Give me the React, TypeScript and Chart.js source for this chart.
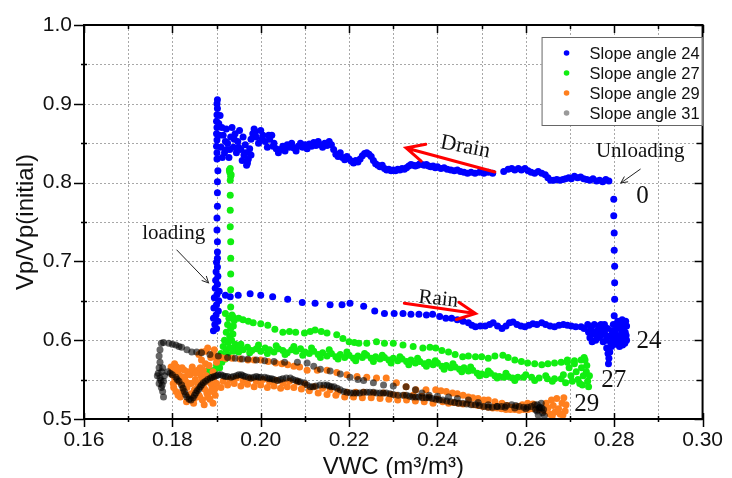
import React, { useEffect, useRef } from "react";
import { Chart, registerables } from "chart.js";

Chart.register(...registerables);

// ---------- Data (VWC, Vp/Vp(initial)) ----------
const SERIES_LABELS = ["Slope angle 24", "Slope angle 27", "Slope angle 29", "Slope angle 31"];

const slope24Loading: number[][] = [
  [0.1893, 0.612], [0.1900, 0.615], [0.1896, 0.620], [0.1903, 0.624], [0.1893, 0.628], [0.1899, 0.632],
  [0.1904, 0.637], [0.1894, 0.641], [0.1900, 0.645], [0.1905, 0.650], [0.1895, 0.654], [0.1901, 0.658],
  [0.1906, 0.662], [0.1897, 0.666], [0.1902, 0.671], [0.1898, 0.676], [0.1903, 0.681], [0.1899, 0.687],
  [0.1902, 0.693], [0.1900, 0.699], [0.1902, 0.704], [0.1902, 0.712], [0.1902, 0.725], [0.1901, 0.740],
  [0.1901, 0.755], [0.1902, 0.770], [0.1902, 0.787], [0.1902, 0.801], [0.1903, 0.815],
];
const slope24Drain: number[][] = [
  [0.1901, 0.830], [0.1901, 0.838], [0.1900, 0.846], [0.1901, 0.854], [0.1900, 0.862], [0.1901, 0.870],
  [0.1900, 0.878], [0.1901, 0.886], [0.1902, 0.894], [0.1901, 0.900], [0.1902, 0.905],
  [0.1905, 0.875], [0.1908, 0.885], [0.1912, 0.870], [0.1906, 0.860], [0.1913, 0.832], [0.1923, 0.842],
  [0.1920, 0.852], [0.1930, 0.842], [0.1940, 0.855], [0.1950, 0.845], [0.1960, 0.858], [0.1966, 0.838],
  [0.1970, 0.825], [0.1978, 0.835], [0.1988, 0.865], [0.2003, 0.855], [0.2018, 0.860], [0.2028, 0.846],
  [0.1910, 0.845], [0.1915, 0.860], [0.1918, 0.838], [0.1922, 0.868], [0.1925, 0.850], [0.1928, 0.832],
  [0.1932, 0.858], [0.1935, 0.870], [0.1938, 0.845], [0.1942, 0.862], [0.1945, 0.838], [0.1948, 0.852],
  [0.1952, 0.866], [0.1955, 0.842], [0.1958, 0.828], [0.1962, 0.835], [0.1965, 0.848], [0.1968, 0.822],
  [0.1972, 0.830], [0.1975, 0.843], [0.1978, 0.855], [0.1982, 0.862], [0.1985, 0.868], [0.1990, 0.858],
  [0.1995, 0.850], [0.2000, 0.866], [0.2005, 0.860], [0.2010, 0.852], [0.2015, 0.845], [0.2020, 0.855],
  [0.2025, 0.860], [0.2030, 0.850], [0.2035, 0.843], [0.2040, 0.838], [0.2045, 0.842], [0.2050, 0.846],
  [0.2055, 0.840], [0.2060, 0.848], [0.2065, 0.845], [0.2070, 0.850], [0.2075, 0.844], [0.2080, 0.840],
  [0.2085, 0.846], [0.2090, 0.850], [0.2095, 0.845], [0.2100, 0.848], [0.2105, 0.843], [0.2110, 0.849],
  [0.2115, 0.846], [0.2120, 0.851], [0.2125, 0.847], [0.2130, 0.852], [0.2135, 0.848], [0.2140, 0.845],
  [0.2145, 0.850], [0.2150, 0.847], [0.2155, 0.852], [0.2160, 0.848], [0.2165, 0.842], [0.2170, 0.836],
  [0.2175, 0.833], [0.2180, 0.838], [0.2185, 0.832], [0.2190, 0.829], [0.2195, 0.833], [0.2200, 0.830],
  [0.2205, 0.827], [0.2210, 0.825], [0.2215, 0.828], [0.2220, 0.826], [0.2225, 0.830], [0.2230, 0.834],
  [0.2235, 0.837], [0.2240, 0.838], [0.2245, 0.836], [0.2250, 0.833], [0.2255, 0.828], [0.2260, 0.824],
  [0.2265, 0.822], [0.2270, 0.820], [0.2275, 0.822], [0.2280, 0.818], [0.2285, 0.816], [0.2290, 0.817],
  [0.2295, 0.815], [0.2300, 0.816], [0.2305, 0.815], [0.2310, 0.817], [0.2315, 0.816], [0.2320, 0.818],
  [0.2325, 0.817], [0.2330, 0.819], [0.2335, 0.821], [0.2340, 0.823], [0.2345, 0.822], [0.2350, 0.821],
  [0.2355, 0.822], [0.2360, 0.824], [0.2365, 0.823], [0.2370, 0.822], [0.2375, 0.823], [0.2380, 0.821],
  [0.2385, 0.820], [0.2390, 0.821], [0.2395, 0.819], [0.2400, 0.820], [0.2408, 0.818], [0.2415, 0.819],
  [0.2422, 0.817], [0.2430, 0.816], [0.2438, 0.815], [0.2445, 0.816], [0.2452, 0.814], [0.2460, 0.813],
  [0.2468, 0.812], [0.2476, 0.813], [0.2485, 0.812], [0.2495, 0.813], [0.2505, 0.812], [0.2515, 0.813],
  [0.2525, 0.812], [0.2550, 0.814], [0.2560, 0.817], [0.2568, 0.818], [0.2575, 0.816], [0.2583, 0.818],
  [0.2590, 0.816], [0.2598, 0.818], [0.2605, 0.815], [0.2612, 0.813], [0.2620, 0.812], [0.2628, 0.814],
  [0.2636, 0.812], [0.2644, 0.810], [0.2650, 0.806], [0.2656, 0.803], [0.2663, 0.803], [0.2670, 0.804],
  [0.2677, 0.803], [0.2684, 0.804], [0.2690, 0.805], [0.2697, 0.806], [0.2703, 0.805], [0.2710, 0.808],
  [0.2717, 0.806], [0.2724, 0.807], [0.2731, 0.805], [0.2738, 0.804], [0.2745, 0.803], [0.2752, 0.805],
  [0.2760, 0.802], [0.2767, 0.803], [0.2774, 0.801], [0.2781, 0.804], [0.2788, 0.802],
];
const slope24Unloading: number[][] = [
  [0.2799, 0.779], [0.2799, 0.758], [0.2800, 0.736], [0.2800, 0.714], [0.2801, 0.694], [0.2801, 0.673],
  [0.2801, 0.652], [0.2800, 0.631],
];
const slope24Rain: number[][] = [
  [0.1920, 0.657], [0.1931, 0.655], [0.1949, 0.657], [0.1976, 0.659], [0.2000, 0.657], [0.2027, 0.655],
  [0.2061, 0.652], [0.2094, 0.648], [0.2123, 0.647], [0.2157, 0.645], [0.2184, 0.645], [0.2202, 0.647],
  [0.2233, 0.643], [0.2258, 0.637], [0.2280, 0.634], [0.2302, 0.634], [0.2322, 0.634], [0.2340, 0.633],
  [0.2358, 0.633], [0.2375, 0.632], [0.2389, 0.633], [0.2405, 0.630], [0.2419, 0.628], [0.2432, 0.628],
  [0.2445, 0.626], [0.2458, 0.624], [0.2470, 0.622], [0.2478, 0.619], [0.2486, 0.617], [0.2497, 0.618],
  [0.2508, 0.618], [0.2518, 0.620], [0.2526, 0.622], [0.2536, 0.618], [0.2546, 0.615], [0.2555, 0.618],
  [0.2563, 0.622], [0.2571, 0.623], [0.2580, 0.620], [0.2589, 0.618], [0.2598, 0.617], [0.2607, 0.619],
  [0.2616, 0.621], [0.2625, 0.620], [0.2636, 0.622], [0.2645, 0.620], [0.2655, 0.618], [0.2665, 0.617],
  [0.2675, 0.619], [0.2685, 0.620], [0.2694, 0.619], [0.2703, 0.618], [0.2713, 0.617], [0.2725, 0.617],
  [0.2732, 0.615], [0.2740, 0.620], [0.2742, 0.610], [0.2745, 0.603], [0.2748, 0.615], [0.2752, 0.608],
  [0.2755, 0.620], [0.2758, 0.600], [0.2762, 0.612], [0.2765, 0.618], [0.2768, 0.605], [0.2772, 0.613],
  [0.2775, 0.598], [0.2778, 0.620], [0.2780, 0.607], [0.2783, 0.590], [0.2786, 0.583], [0.2788, 0.577],
  [0.2790, 0.585], [0.2792, 0.597], [0.2795, 0.612], [0.2798, 0.620], [0.2800, 0.604], [0.2803, 0.595],
  [0.2806, 0.615], [0.2808, 0.624], [0.2811, 0.606], [0.2814, 0.598], [0.2817, 0.612], [0.2820, 0.620],
  [0.2822, 0.603], [0.2825, 0.610], [0.2828, 0.618], [0.2828, 0.600], [0.2826, 0.624], [0.2819, 0.594],
  [0.2745, 0.612], [0.2750, 0.598], [0.2757, 0.610], [0.2763, 0.603], [0.2770, 0.620], [0.2776, 0.610],
  [0.2782, 0.600], [0.2785, 0.615], [0.2789, 0.605], [0.2794, 0.592], [0.2797, 0.600], [0.2802, 0.612],
  [0.2805, 0.620], [0.2807, 0.600], [0.2813, 0.618], [0.2816, 0.604], [0.2818, 0.626], [0.2821, 0.612],
  [0.2824, 0.596], [0.2827, 0.606], [0.2812, 0.592], [0.2787, 0.570],
];

const slope27Loading: number[][] = [
  [0.1931, 0.818], [0.1930, 0.813], [0.1932, 0.808], [0.1931, 0.803], [0.1933, 0.810], [0.1929, 0.816],
  [0.1931, 0.784], [0.1931, 0.765], [0.1931, 0.744], [0.1932, 0.725], [0.1932, 0.704], [0.1932, 0.684],
  [0.1932, 0.664], [0.1932, 0.642],
];
const slope27Cluster: number[][] = [
  [0.1920, 0.634], [0.1928, 0.628], [0.1935, 0.632], [0.1940, 0.625], [0.1925, 0.620], [0.1932, 0.615],
  [0.1938, 0.618], [0.1922, 0.610], [0.1930, 0.605], [0.1937, 0.608], [0.1918, 0.600], [0.1926, 0.597],
  [0.1934, 0.600], [0.1942, 0.595], [0.1915, 0.592], [0.1922, 0.588], [0.1930, 0.590], [0.1938, 0.586],
  [0.1910, 0.583], [0.1918, 0.580], [0.1926, 0.582], [0.1905, 0.575], [0.1912, 0.572], [0.1920, 0.576],
  [0.1900, 0.568], [0.1907, 0.565], [0.1895, 0.562], [0.1888, 0.560], [0.1883, 0.562], [0.1945, 0.590],
  [0.1950, 0.585],
];
const slope27Upper: number[][] = [
  [0.1938, 0.629], [0.1950, 0.628], [0.1960, 0.626], [0.1972, 0.624], [0.1983, 0.622], [0.2000, 0.621],
  [0.2016, 0.619], [0.2032, 0.614], [0.2050, 0.610], [0.2065, 0.611], [0.2079, 0.610], [0.2099, 0.609],
  [0.2112, 0.611], [0.2123, 0.613], [0.2137, 0.611], [0.2150, 0.609], [0.2172, 0.607], [0.2186, 0.602],
  [0.2200, 0.598], [0.2212, 0.597], [0.2222, 0.596], [0.2240, 0.596], [0.2262, 0.598], [0.2280, 0.596],
  [0.2300, 0.596], [0.2322, 0.594], [0.2345, 0.592], [0.2367, 0.590], [0.2383, 0.591], [0.2396, 0.590],
  [0.2410, 0.587], [0.2425, 0.585], [0.2440, 0.582], [0.2457, 0.579], [0.2470, 0.580], [0.2486, 0.579],
  [0.2500, 0.579], [0.2515, 0.577], [0.2530, 0.580], [0.2548, 0.581], [0.2560, 0.578], [0.2575, 0.575],
  [0.2590, 0.573], [0.2604, 0.571], [0.2620, 0.570], [0.2636, 0.569], [0.2650, 0.570], [0.2665, 0.571],
  [0.2680, 0.572], [0.2694, 0.572], [0.2710, 0.574], [0.2725, 0.575],
];
const slope27Lower: number[][] = [
  [0.1950, 0.590], [0.1960, 0.588], [0.1970, 0.591], [0.1980, 0.587], [0.1990, 0.589], [0.2000, 0.586],
  [0.2010, 0.590], [0.2020, 0.588], [0.2030, 0.585], [0.2040, 0.589], [0.2050, 0.587], [0.2060, 0.584],
  [0.2070, 0.588], [0.2080, 0.586], [0.2090, 0.589], [0.2100, 0.585], [0.2110, 0.583], [0.2120, 0.586],
  [0.2130, 0.582], [0.2140, 0.584], [0.2150, 0.580], [0.2160, 0.583], [0.2170, 0.579], [0.2180, 0.582],
  [0.2190, 0.578], [0.2200, 0.581], [0.2210, 0.577], [0.2220, 0.580], [0.2230, 0.578], [0.2240, 0.581],
  [0.2250, 0.577], [0.2260, 0.579], [0.2270, 0.576], [0.2280, 0.578], [0.2290, 0.575], [0.2300, 0.577],
  [0.2310, 0.574], [0.2320, 0.576], [0.2330, 0.573], [0.2340, 0.575], [0.2350, 0.571], [0.2360, 0.573],
  [0.2370, 0.570], [0.2380, 0.572], [0.2390, 0.569], [0.2400, 0.571], [0.2410, 0.567], [0.2420, 0.568],
  [0.2430, 0.565], [0.2440, 0.566], [0.2450, 0.563], [0.2460, 0.565], [0.2470, 0.561], [0.2480, 0.562],
  [0.2490, 0.558], [0.2500, 0.557], [0.2510, 0.556], [0.2520, 0.558], [0.2530, 0.555], [0.2540, 0.554],
  [0.2550, 0.553], [0.2560, 0.554], [0.2570, 0.552], [0.2582, 0.553], [0.2595, 0.553], [0.2613, 0.553],
  [0.2630, 0.552], [0.2649, 0.551], [0.2665, 0.551], [0.2680, 0.551],
  [0.1955, 0.595], [0.1975, 0.584], [0.1995, 0.594], [0.2015, 0.583], [0.2035, 0.593], [0.2055, 0.582],
  [0.2075, 0.592], [0.2095, 0.581], [0.2115, 0.590], [0.2135, 0.578], [0.2155, 0.588], [0.2175, 0.576],
  [0.2195, 0.585], [0.2215, 0.574], [0.2235, 0.583], [0.2255, 0.573], [0.2275, 0.581], [0.2295, 0.571],
  [0.2315, 0.579], [0.2335, 0.569], [0.2355, 0.577], [0.2375, 0.567], [0.2395, 0.574], [0.2415, 0.563],
  [0.2435, 0.570], [0.2455, 0.560], [0.2475, 0.566], [0.2495, 0.555], [0.2515, 0.561], [0.2535, 0.552],
  [0.2555, 0.558], [0.2575, 0.549], [0.2600, 0.556], [0.2620, 0.549], [0.2645, 0.555], [0.2660, 0.548],
  [0.2685, 0.556], [0.2690, 0.546],
  [0.2694, 0.575], [0.2698, 0.565], [0.2702, 0.555], [0.2705, 0.548], [0.2710, 0.570], [0.2714, 0.560],
  [0.2718, 0.550], [0.2722, 0.545], [0.2726, 0.565], [0.2730, 0.555], [0.2734, 0.575], [0.2737, 0.560],
  [0.2740, 0.548], [0.2742, 0.541], [0.2738, 0.568], [0.2732, 0.578], [0.2728, 0.543], [0.2744, 0.555],
];

const slope29Start: number[][] = [
  [0.1797, 0.566], [0.1800, 0.556], [0.1802, 0.545], [0.1805, 0.570], [0.1808, 0.535], [0.1812, 0.560],
  [0.1815, 0.548], [0.1818, 0.528], [0.1822, 0.565], [0.1825, 0.540], [0.1828, 0.553], [0.1832, 0.522],
  [0.1835, 0.560], [0.1838, 0.545], [0.1842, 0.532], [0.1845, 0.566], [0.1848, 0.520], [0.1852, 0.550],
  [0.1855, 0.538], [0.1858, 0.562], [0.1862, 0.528], [0.1865, 0.555], [0.1866, 0.585], [0.1866, 0.575],
  [0.1870, 0.543], [0.1872, 0.518], [0.1875, 0.570], [0.1878, 0.533], [0.1880, 0.590], [0.1882, 0.548],
  [0.1885, 0.525], [0.1887, 0.578], [0.1890, 0.540], [0.1892, 0.560], [0.1895, 0.588], [0.1897, 0.530],
  [0.1900, 0.572], [0.1892, 0.520], [0.1875, 0.586], [0.1860, 0.582], [0.1805, 0.552], [0.1850, 0.526],
  [0.1800, 0.562], [0.1803, 0.540], [0.1807, 0.548], [0.1810, 0.566], [0.1813, 0.530], [0.1817, 0.555],
  [0.1820, 0.545], [0.1823, 0.535], [0.1827, 0.562], [0.1830, 0.548], [0.1833, 0.540], [0.1837, 0.530],
  [0.1840, 0.556], [0.1843, 0.545], [0.1847, 0.562], [0.1850, 0.537], [0.1853, 0.558], [0.1857, 0.545],
  [0.1860, 0.530], [0.1863, 0.565], [0.1867, 0.550], [0.1870, 0.562], [0.1873, 0.538], [0.1877, 0.555],
  [0.1880, 0.528], [0.1883, 0.568], [0.1887, 0.545], [0.1890, 0.582], [0.1893, 0.552], [0.1896, 0.538],
  [0.1899, 0.578], [0.1886, 0.535], [0.1868, 0.524],
];
const slope29Upper: number[][] = [
  [0.1897, 0.580], [0.1910, 0.578], [0.1920, 0.577], [0.1935, 0.577], [0.1953, 0.576], [0.1971, 0.575],
  [0.1985, 0.575], [0.2000, 0.575], [0.2017, 0.573], [0.2034, 0.571], [0.2048, 0.570], [0.2061, 0.569],
  [0.2075, 0.567], [0.2088, 0.566], [0.2105, 0.562], [0.2128, 0.562], [0.2150, 0.562], [0.2172, 0.559],
  [0.2195, 0.556], [0.2218, 0.554], [0.2240, 0.553], [0.2262, 0.552], [0.2284, 0.552], [0.2307, 0.546],
  [0.2329, 0.541], [0.2351, 0.537], [0.2374, 0.537], [0.2396, 0.537], [0.2408, 0.536], [0.2420, 0.535],
  [0.2434, 0.533], [0.2445, 0.532], [0.2458, 0.530], [0.2470, 0.528], [0.2480, 0.527], [0.2492, 0.526],
  [0.2505, 0.524], [0.2515, 0.524], [0.2530, 0.522], [0.2546, 0.520], [0.2558, 0.517], [0.2568, 0.515],
  [0.2580, 0.516], [0.2592, 0.518], [0.2604, 0.520], [0.2616, 0.519],
];
const slope29Lower: number[][] = [
  [0.1900, 0.545], [0.1915, 0.548], [0.1930, 0.550], [0.1945, 0.552], [0.1960, 0.549], [0.1975, 0.551],
  [0.1990, 0.548], [0.2005, 0.550], [0.2020, 0.547], [0.2035, 0.549], [0.2050, 0.546], [0.2065, 0.548],
  [0.2083, 0.547], [0.2100, 0.544], [0.2121, 0.541], [0.2140, 0.539], [0.2157, 0.537], [0.2175, 0.535],
  [0.2195, 0.534], [0.2215, 0.534], [0.2233, 0.534], [0.2255, 0.533], [0.2278, 0.533], [0.2295, 0.531],
  [0.2307, 0.530], [0.2325, 0.530], [0.2345, 0.530], [0.2365, 0.529], [0.2381, 0.528], [0.2400, 0.525],
  [0.1910, 0.540], [0.1925, 0.543], [0.1940, 0.545], [0.1955, 0.542], [0.1970, 0.544], [0.1985, 0.541],
  [0.2000, 0.543], [0.2015, 0.540], [0.2030, 0.542], [0.2045, 0.539], [0.2060, 0.541], [0.2075, 0.540],
  [0.2092, 0.538], [0.2110, 0.536], [0.2130, 0.533], [0.2150, 0.531], [0.2170, 0.530], [0.2190, 0.528],
  [0.2210, 0.528], [0.2230, 0.527], [0.2250, 0.527], [0.2270, 0.526], [0.2290, 0.525], [0.2310, 0.524],
  [0.2330, 0.524], [0.2350, 0.523], [0.2370, 0.522], [0.2390, 0.520],
  [0.2412, 0.522], [0.2425, 0.520], [0.2436, 0.521], [0.2447, 0.520], [0.2458, 0.519], [0.2470, 0.520],
  [0.2481, 0.518], [0.2492, 0.517], [0.2503, 0.516], [0.2515, 0.515], [0.2525, 0.514], [0.2535, 0.514],
  [0.2545, 0.513], [0.2555, 0.512], [0.2565, 0.512], [0.2575, 0.512], [0.2585, 0.511], [0.2595, 0.512],
  [0.2605, 0.512], [0.2615, 0.513], [0.2630, 0.512],
  [0.2642, 0.510], [0.2646, 0.520], [0.2650, 0.514], [0.2655, 0.506], [0.2658, 0.524], [0.2662, 0.517],
  [0.2666, 0.509], [0.2670, 0.526], [0.2674, 0.513], [0.2678, 0.506], [0.2682, 0.520], [0.2686, 0.527],
  [0.2689, 0.510], [0.2691, 0.518], [0.2684, 0.505], [0.2660, 0.504],
];

const slope31Start: number[][] = [
  [0.1775, 0.596], [0.1772, 0.588], [0.1770, 0.580], [0.1772, 0.572], [0.1770, 0.565], [0.1768, 0.558],
  [0.1772, 0.552], [0.1770, 0.545], [0.1775, 0.540], [0.1778, 0.535], [0.1780, 0.528], [0.1776, 0.560],
  [0.1780, 0.548], [0.1782, 0.555], [0.1778, 0.565], [0.1766, 0.555], [0.1774, 0.549], [0.1777, 0.543],
];
const slope31Upper: number[][] = [
  [0.1780, 0.597], [0.1792, 0.596], [0.1800, 0.595], [0.1808, 0.594], [0.1815, 0.592], [0.1821, 0.591],
  [0.1833, 0.588], [0.1844, 0.585], [0.1855, 0.585], [0.1866, 0.584], [0.1885, 0.582], [0.1904, 0.580],
  [0.1925, 0.578], [0.1942, 0.577], [0.1958, 0.576], [0.1971, 0.576], [0.1990, 0.575], [0.2009, 0.574],
  [0.2030, 0.573], [0.2054, 0.572], [0.2083, 0.572], [0.2105, 0.571], [0.2120, 0.567], [0.2135, 0.563],
  [0.2157, 0.561], [0.2180, 0.557], [0.2202, 0.553], [0.2220, 0.550], [0.2233, 0.549], [0.2255, 0.546],
  [0.2278, 0.543], [0.2300, 0.542], [0.2329, 0.541], [0.2350, 0.537], [0.2365, 0.533], [0.2381, 0.530],
  [0.2400, 0.529], [0.2425, 0.528], [0.2445, 0.526], [0.2470, 0.524], [0.2492, 0.521], [0.2515, 0.518],
  [0.2535, 0.516], [0.2553, 0.515], [0.2575, 0.514], [0.2600, 0.513],
];
const slope31Lower: number[][] = [
  [0.1790, 0.560], [0.1800, 0.556], [0.1808, 0.553], [0.1815, 0.548], [0.1821, 0.543], [0.1827, 0.535],
  [0.1833, 0.528], [0.1838, 0.525], [0.1842, 0.524], [0.1847, 0.527], [0.1853, 0.533], [0.1860, 0.538],
  [0.1866, 0.543], [0.1875, 0.548], [0.1886, 0.552], [0.1895, 0.554], [0.1904, 0.556], [0.1915, 0.555],
  [0.1925, 0.554], [0.1933, 0.553], [0.1945, 0.555], [0.1956, 0.556], [0.1965, 0.554], [0.1978, 0.552],
  [0.1990, 0.554], [0.2000, 0.553], [0.2009, 0.553], [0.2020, 0.551], [0.2030, 0.550], [0.2038, 0.549],
  [0.2050, 0.551], [0.2067, 0.552], [0.2080, 0.549], [0.2090, 0.547], [0.2099, 0.546], [0.2112, 0.541],
  [0.2125, 0.542], [0.2143, 0.543], [0.2155, 0.542], [0.2166, 0.541], [0.2180, 0.537], [0.2195, 0.534],
  [0.2210, 0.533], [0.2224, 0.533], [0.2240, 0.534], [0.2255, 0.534], [0.2270, 0.533], [0.2284, 0.533],
  [0.2300, 0.531], [0.2322, 0.530], [0.2337, 0.529], [0.2351, 0.528], [0.2366, 0.527], [0.2381, 0.527],
  [0.2396, 0.525], [0.2412, 0.524], [0.2430, 0.522], [0.2448, 0.520], [0.2466, 0.519], [0.2486, 0.518],
  [0.2505, 0.516], [0.2524, 0.515], [0.2545, 0.516], [0.2568, 0.518], [0.2585, 0.516], [0.2604, 0.515],
  [0.1795, 0.558], [0.1811, 0.550], [0.1824, 0.539], [0.1830, 0.531], [0.1850, 0.530], [0.1856, 0.536],
  [0.1863, 0.541], [0.1870, 0.546], [0.1880, 0.550], [0.1890, 0.553], [0.1900, 0.555], [0.1910, 0.556],
  [0.1920, 0.554], [0.1938, 0.554], [0.1950, 0.556], [0.1960, 0.555], [0.1972, 0.553], [0.1984, 0.553],
  [0.1995, 0.553], [0.2015, 0.552], [0.2025, 0.551], [0.2044, 0.550], [0.2058, 0.552], [0.2073, 0.550],
  [0.2085, 0.548], [0.2105, 0.543], [0.2118, 0.541], [0.2134, 0.543], [0.2150, 0.543], [0.2160, 0.541],
  [0.2173, 0.539], [0.2188, 0.535], [0.2203, 0.533], [0.2217, 0.533], [0.2232, 0.534], [0.2247, 0.534],
  [0.2262, 0.533], [0.2277, 0.533], [0.2292, 0.532], [0.2311, 0.530], [0.2330, 0.530], [0.2344, 0.528],
  [0.2358, 0.528], [0.2374, 0.527], [0.2388, 0.526], [0.2404, 0.524], [0.2421, 0.523], [0.2439, 0.521],
  [0.2457, 0.520], [0.2476, 0.518], [0.2495, 0.517], [0.2515, 0.515], [0.2535, 0.516], [0.2556, 0.517],
  [0.2577, 0.517], [0.2595, 0.515], [0.2612, 0.516],
  [0.2620, 0.518], [0.2625, 0.510], [0.2628, 0.505], [0.2632, 0.515], [0.2635, 0.520], [0.2638, 0.508],
  [0.2640, 0.512], [0.2642, 0.504], [0.2630, 0.514], [0.2622, 0.512], [0.2636, 0.514], [0.2626, 0.518],
];

const X_TICKS = [0.16, 0.17, 0.18, 0.19, 0.2, 0.21, 0.22, 0.23, 0.24, 0.25, 0.26, 0.27, 0.28, 0.29, 0.3];
const Y_TICKS = [0.5, 0.55, 0.6, 0.65, 0.7, 0.75, 0.8, 0.85, 0.9, 0.95, 1.0];

// Annotation texts (placed in data coordinates)
const TEXT_NOTES = [
  { text: "Drain", x: 0.2463, y: 0.845, rot: 11, size: 22 },
  { text: "Rain", x: 0.2402, y: 0.652, rot: 6, size: 21 },
  { text: "Unloading", x: 0.2859, y: 0.839, rot: 0, size: 21 },
  { text: "loading", x: 0.1803, y: 0.735, rot: 0, size: 21 },
  { text: "0", x: 0.2864, y: 0.782, rot: 0, size: 25 },
  { text: "24", x: 0.2879, y: 0.599, rot: 0, size: 25 },
  { text: "27", x: 0.2799, y: 0.549, rot: 0, size: 25 },
  { text: "29", x: 0.2738, y: 0.519, rot: 0, size: 25 },
];
const ARROWS = [
  { x1: 0.2530, y1: 0.8135, x2: 0.2329, y2: 0.844, color: "#ff0000", width: 3, head: 20 },
  { x1: 0.2325, y1: 0.647, x2: 0.2486, y2: 0.634, color: "#ff0000", width: 3, head: 20 },
  { x1: 0.2859, y1: 0.817, x2: 0.2815, y2: 0.7995, color: "#222222", width: 1, head: 7 },
  { x1: 0.1810, y1: 0.7145, x2: 0.1882, y2: 0.6726, color: "#222222", width: 1, head: 7 },
];

const COLORS = ["#0000ff", "#11ee11", "#ff7f1e", "rgba(0,0,0,0.6)"];
const LEGEND_COLORS = ["#0000ff", "#11ee11", "#ff7f1e", "#9a9a9a"];

const SANS = '"Liberation Sans", Arial, sans-serif';
const SERIF = '"Liberation Serif", "Times New Roman", serif';

const isMajorX = (v: number) => Math.round(v * 100) % 2 === 0;
const isMajorY = (v: number) => Math.round(v * 100) % 10 === 0;

const toPts = (arr: number[][]) => arr.map(([x, y]) => ({ x, y }));

const gridPlugin = {
  id: "dottedGrid",
  beforeDatasetsDraw(chart: any) {
    const { ctx, chartArea, scales } = chart;
    const { left, right, top, bottom } = chartArea;
    ctx.save();
    ctx.strokeStyle = "#a8a8a8";
    ctx.lineWidth = 1;
    ctx.setLineDash([2, 2]);
    ctx.beginPath();
    X_TICKS.slice(1, -1).forEach((v) => {
      const px = Math.round(scales.x.getPixelForValue(v)) + 0.5;
      ctx.moveTo(px, top);
      ctx.lineTo(px, bottom);
    });
    Y_TICKS.slice(1, -1).forEach((v) => {
      const py = Math.round(scales.y.getPixelForValue(v)) + 0.5;
      ctx.moveTo(left, py);
      ctx.lineTo(right, py);
    });
    ctx.stroke();
    ctx.restore();
  },
};

const decorPlugin = {
  id: "decor",
  afterDraw(chart: any) {
    const { ctx, chartArea, scales } = chart;
    const { left, right, top, bottom } = chartArea;
    const xs = scales.x;
    const ys = scales.y;
    ctx.save();
    // frame
    ctx.strokeStyle = "#000";
    ctx.lineWidth = 2;
    ctx.setLineDash([]);
    ctx.strokeRect(left, top, right - left, bottom - top);
    // tick marks
    ctx.lineWidth = 1.5;
    ctx.beginPath();
    X_TICKS.forEach((v) => {
      const px = Math.round(xs.getPixelForValue(v)) + 0.5;
      const major = isMajorX(v);
      ctx.moveTo(px, bottom - (major ? 6 : 3));
      ctx.lineTo(px, bottom + (major ? 8 : 3));
      ctx.moveTo(px, top);
      ctx.lineTo(px, top + (major ? 8 : 4));
    });
    Y_TICKS.forEach((v) => {
      const py = Math.round(ys.getPixelForValue(v)) + 0.5;
      const major = isMajorY(v);
      ctx.moveTo(left - (major ? 10 : 3), py);
      ctx.lineTo(left + (major ? 0 : 3), py);
      ctx.moveTo(right, py);
      ctx.lineTo(right - (major ? 8 : 6), py);
    });
    ctx.stroke();

    // arrows
    ARROWS.forEach((a) => {
      const x1 = xs.getPixelForValue(a.x1);
      const y1 = ys.getPixelForValue(a.y1);
      const x2 = xs.getPixelForValue(a.x2);
      const y2 = ys.getPixelForValue(a.y2);
      const ang = Math.atan2(y2 - y1, x2 - x1);
      ctx.strokeStyle = a.color;
      ctx.lineWidth = a.width;
      ctx.lineCap = "round";
      ctx.beginPath();
      ctx.moveTo(x1, y1);
      ctx.lineTo(x2, y2);
      ctx.moveTo(x2 - a.head * Math.cos(ang - 0.45), y2 - a.head * Math.sin(ang - 0.45));
      ctx.lineTo(x2, y2);
      ctx.lineTo(x2 - a.head * Math.cos(ang + 0.45), y2 - a.head * Math.sin(ang + 0.45));
      ctx.stroke();
    });

    // notes
    ctx.fillStyle = "#111";
    ctx.textAlign = "center";
    ctx.textBaseline = "middle";
    TEXT_NOTES.forEach((n) => {
      const px = xs.getPixelForValue(n.x);
      const py = ys.getPixelForValue(n.y);
      ctx.save();
      ctx.translate(px, py);
      ctx.rotate((n.rot * Math.PI) / 180);
      ctx.font = `${n.size}px ${SERIF}`;
      ctx.fillText(n.text, 0, 0);
      ctx.restore();
    });

    // legend
    const lw = 161;
    const lh = 89;
    const lx = right - lw;
    const ly = top + 12;
    ctx.fillStyle = "#fff";
    ctx.fillRect(lx, ly, lw, lh);
    ctx.strokeStyle = "#666";
    ctx.lineWidth = 1;
    ctx.strokeRect(lx + 0.5, ly + 0.5, lw - 1, lh - 1);
    ctx.textAlign = "left";
    ctx.font = `16.5px ${SANS}`;
    chart.data.datasets.forEach((ds: any, i: number) => {
      const cy = ly + 16 + i * 20;
      ctx.fillStyle = LEGEND_COLORS[i];
      ctx.beginPath();
      ctx.arc(lx + 25, cy, 2.8, 0, Math.PI * 2);
      ctx.fill();
      ctx.fillStyle = "#111";
      ctx.fillText(ds.label, lx + 48, cy + 1);
    });
    ctx.restore();
  },
};

export default function App() {
  const canvasRef = useRef<HTMLCanvasElement | null>(null);

  useEffect(() => {
    if (!canvasRef.current) return;
    const series = [
      [...slope24Loading, ...slope24Drain, ...slope24Unloading, ...slope24Rain],
      [...slope27Loading, ...slope27Cluster, ...slope27Upper, ...slope27Lower],
      [...slope29Start, ...slope29Upper, ...slope29Lower],
      [...slope31Start, ...slope31Upper, ...slope31Lower],
    ];
    const chart = new Chart(canvasRef.current, {
      type: "scatter",
      data: {
        datasets: series.map((pts, i) => ({
          label: SERIES_LABELS[i],
          data: toPts(pts),
          backgroundColor: COLORS[i],
          borderWidth: 0,
          pointRadius: 3.5,
          pointHoverRadius: 3.5,
          order: 3 - i,
        })),
      },
      options: {
        animation: false,
        responsive: false,
        events: [],
        layout: { padding: { left: 0, right: 22, top: 25, bottom: 0 } },
        plugins: { legend: { display: false }, tooltip: { enabled: false } },
        scales: {
          x: {
            type: "linear",
            min: 0.16,
            max: 0.3,
            afterBuildTicks: (scale: any) => {
              scale.ticks = X_TICKS.map((v) => ({ value: v }));
            },
            afterFit: (scale: any) => {
              scale.height = 59;
            },
            ticks: {
              autoSkip: false,
              maxRotation: 0,
              padding: 9,
              color: "#111",
              font: { family: SANS, size: 21 },
              callback: (v: any) => (isMajorX(Number(v)) ? Number(v).toFixed(2) : ""),
            },
            grid: { display: false, drawTicks: false },
            border: { display: false },
            title: {
              display: true,
              text: "VWC (m³/m³)",
              color: "#111",
              font: { family: SANS, size: 24, lineHeight: 0.9 },
              padding: { top: 0, bottom: 0 },
            },
          },
          y: {
            type: "linear",
            min: 0.5,
            max: 1.0,
            afterBuildTicks: (scale: any) => {
              scale.ticks = Y_TICKS.map((v) => ({ value: v }));
            },
            afterFit: (scale: any) => {
              scale.width = 84;
            },
            ticks: {
              autoSkip: false,
              padding: 12,
              color: "#111",
              font: { family: SANS, size: 21 },
              callback: (v: any) => (isMajorY(Number(v)) ? Number(v).toFixed(1) : ""),
            },
            grid: { display: false, drawTicks: false },
            border: { display: false },
            title: {
              display: true,
              text: "Vp/Vp(initial)",
              color: "#111",
              font: { family: SANS, size: 24, lineHeight: 1.2 },
              padding: { top: 12, bottom: 0 },
            },
          },
        },
      },
      plugins: [gridPlugin, decorPlugin],
    } as any);
    return () => chart.destroy();
  }, []);

  return (
    <div style={{ position: "fixed", left: 0, top: 0, width: 732, height: 478, background: "#fff" }}>
      <canvas ref={canvasRef} width={732} height={478} style={{ display: "block" }} />
    </div>
  );
}
